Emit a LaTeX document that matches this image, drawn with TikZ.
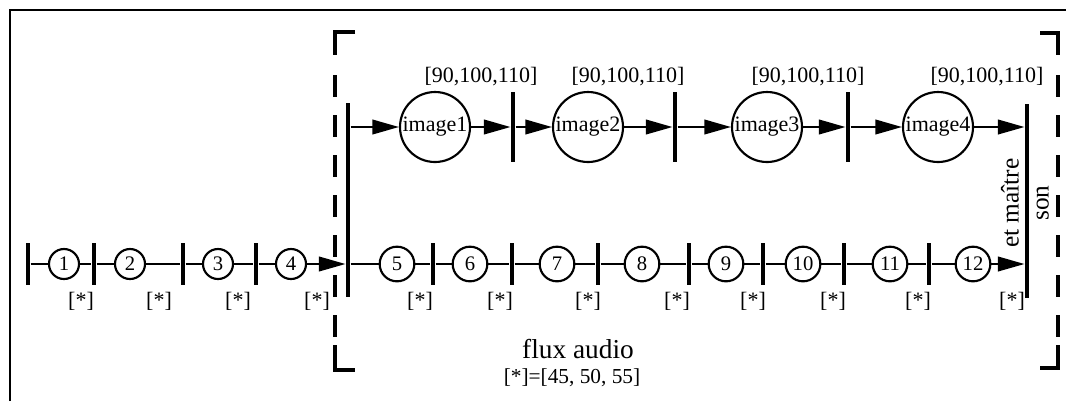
\documentclass[tikz,border=0pt]{standalone}
\usepackage{fontspec}
\setmainfont{Liberation Serif}
\usetikzlibrary{arrows.meta}
\begin{document}
\begin{tikzpicture}[x=0.75pt,y=-0.75pt,line width=1.5pt,
  img/.style={circle,draw,line width=1.6pt,minimum size=52.5pt,inner sep=0pt,font=\fontsize{16.5}{18}\selectfont},
  numA/.style={circle,draw,line width=1.6pt,minimum size=22.5pt,inner sep=0pt,font=\fontsize{15.5}{17}\selectfont},
  numB/.style={numA,minimum size=26pt},
  bar/.style={fill,inner sep=0pt,minimum width=2.3pt,minimum height=#1},
  arr/.style={-{Triangle[length=20pt,width=11pt]}},
  lab/.style={inner sep=0pt,font=\fontsize{16.5}{18}\selectfont},
  star/.style={inner sep=0pt,font=\fontsize{16.5}{18}\selectfont},
  brk/.style={line width=3pt},
  brkdash/.style={line width=3pt,dash pattern=on 16.5pt off 13.5pt}
]
\useasboundingbox (0,0) rectangle (1066,401);
% outer frame
\draw[line width=2.2pt] (10,401) -- (10,10) -- (1066,10);
% dashed bracket box
\draw[brk] (355,32) -- (335,32) -- (335,55);
\draw[brk] (335,345) -- (335,370) -- (355,370);
\draw[brkdash] (335,75) -- (335,337);
\draw[brk] (1040,33) -- (1058,33) -- (1058,55);
\draw[brk] (1058,345) -- (1058,368) -- (1040,368);
\draw[brkdash] (1058,75) -- (1058,337);
% big bars
\node[bar=145.5pt] (b0) at (348,200) {};
\node[bar=145pt] (S) at (1027,201) {};
% upper row
\node[img] (img1) at (435,127) {image1};
\node[img] (img2) at (588,127) {image2};
\node[img] (img3) at (767,127) {image3};
\node[img] (img4) at (938,127) {image4};
\node[bar=53pt] (u1) at (513,127) {};
\node[bar=53pt] (u2) at (675,127) {};
\node[bar=53pt] (u3) at (848,127) {};
\node[lab] (l1) at (481,77) {[90,100,110]};
\node[lab] (l2) at (628,77) {[90,100,110]};
\node[lab] (l3) at (808,77) {[90,100,110]};
\node[lab] (l4) at (987,77) {[90,100,110]};
\draw[arr] (b0.east |- img1) -- (img1);
\draw[arr] (img1) -- (u1);
\draw[arr] (u1) -- (img2);
\draw[arr] (img2) -- (u2);
\draw[arr] (u2) -- (img3);
\draw[arr] (img3) -- (u3);
\draw[arr] (u3) -- (img4);
\draw[arr] (img4) -- (S.west |- img4);
% lower row
\foreach \n/\x in {1/64,2/130,3/218,4/291}
  \node[numA] (c\n) at (\x,264) {\n};
\foreach \n/\x in {5/397,6/470,7/557,8/642,9/726,10/803,11/890,12/973}
  \node[numB] (c\n) at (\x,264) {\n};
\foreach \n/\x in {0/28,1/94,2/183,3/256,5/433,6/512,7/598,8/689,9/763,10/844,11/929}
  \node[bar=32pt] (t\n) at (\x,264) {};
\foreach \n/\x in {1/81,2/159,3/238,4/317,5/420,6/500,7/588,8/677,9/753,10/833,11/918,12/1012}
  \node[star] (s\n) at (\x,301) {[*]};
\draw (t0) -- (c1) -- (t1) -- (c2) -- (t2) -- (c3) -- (t3) -- (c4);
\draw[arr] (c4) -- (b0.west |- c4);
\draw (b0.east |- c5) -- (c5) -- (t5) -- (c6) -- (t6) -- (c7) -- (t7) -- (c8) -- (t8) -- (c9) -- (t9) -- (c10) -- (t10) -- (c11) -- (t11) -- (c12);
\draw[arr] (c12) -- (S.west |- c12);
% texts
\node[rotate=90,align=center,inner sep=0pt,font=\fontsize{19}{22.5}\selectfont] (maitre) at (1025,203) {et maître\\son};
\node[inner sep=0pt,font=\fontsize{20.5}{24}\selectfont] (flux) at (578,349) {flux audio};
\node[inner sep=0pt,font=\fontsize{16}{19}\selectfont] (def) at (572,378) {[*]=[45, 50, 55]};
\end{tikzpicture}
\end{document}
